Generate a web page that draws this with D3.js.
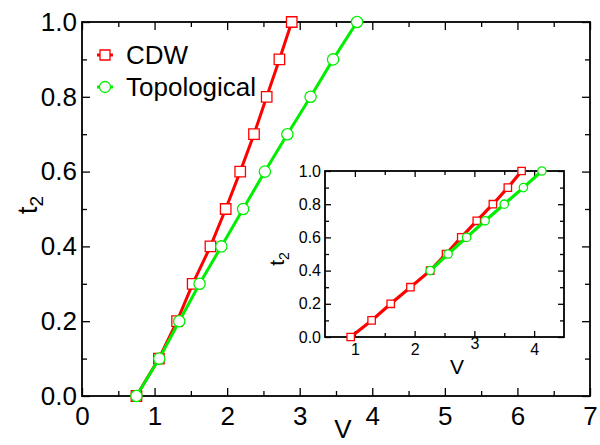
<!DOCTYPE html>
<html>
<head>
<meta charset="utf-8">
<script src="https://cdn.jsdelivr.net/npm/d3@7"></script>
<style>
  body { margin: 0; background: #fff; }
  svg { display: block; font-family: "Liberation Sans", Arial, sans-serif; }
</style>
</head>
<body>
<svg id="chart"></svg>
<script>
// data
const t2Main = [0, 0.1, 0.2, 0.3, 0.4, 0.5, 0.6, 0.7, 0.8, 0.9, 1.0];
const vCdwMain = [0.75, 1.06, 1.31, 1.525, 1.77, 1.98, 2.18, 2.37, 2.545, 2.72, 2.89];
const vTopoMain = [0.75, 1.065, 1.34, 1.62, 1.92, 2.22, 2.52, 2.83, 3.15, 3.46, 3.79];

const t2InsetCdw = [0, 0.1, 0.2, 0.3, 0.4, 0.5, 0.6, 0.7, 0.8, 0.9, 1.0];
const vCdwInset = [0.93, 1.28, 1.60, 1.93, 2.26, 2.525, 2.78, 3.04, 3.31, 3.56, 3.79];
const t2InsetTopo = [0.4, 0.5, 0.6, 0.7, 0.8, 0.9, 1.0];
const vTopoInset = [2.26, 2.56, 2.87, 3.18, 3.50, 3.82, 4.13];

const seriesNames = ["CDW", "Topological"];
const red = "#ff0000";
const green = "#00ee00";

const width = 600, height = 445;
const svg = d3.select("#chart").attr("width", width).attr("height", height);

// draws a boxed frame with inward ticks on every side
function frame(g, x, y, o) {
  const [x0, x1] = x.range();
  const [y0, y1] = y.range();
  const fmtY = d3.format(".1f");
  const sides = [
    { ax: d3.axisBottom(x), tr: `translate(0,${y0})`, lab: true, fmt: d3.format("d") },
    { ax: d3.axisTop(x), tr: `translate(0,${y1})`, lab: false },
    { ax: d3.axisLeft(y), tr: `translate(${x0},0)`, lab: true, fmt: fmtY },
    { ax: d3.axisRight(y), tr: `translate(${x1},0)`, lab: false }
  ];
  sides.forEach((s, i) => {
    const isX = i < 2;
    const major = isX ? o.xMajor : o.yMajor;
    const minor = isX ? o.xMinor : o.yMinor;
    g.append("g").attr("transform", s.tr)
      .call(s.ax.tickValues(minor).tickSize(-o.minorLen).tickFormat(""))
      .call(a => a.select(".domain").remove())
      .call(a => a.selectAll("line").attr("stroke-width", 1.3));
    const m = g.append("g").attr("transform", s.tr)
      .call(s.ax.tickValues(major).tickSize(-o.majorLen)
        .tickPadding(isX ? o.xPad : o.yPad)
        .tickFormat(s.lab ? s.fmt : ""));
    m.select(".domain").remove();
    m.selectAll("line").attr("stroke-width", 1.3);
    m.selectAll("text").attr("font-size", o.fs).attr("font-family", "Liberation Sans, Arial, sans-serif").attr("fill", "#000");
    if (s.lab && o.tweak) o.tweak(m, isX);
  });
  g.append("rect").attr("x", x0).attr("y", y1)
    .attr("width", x1 - x0).attr("height", y0 - y1)
    .attr("fill", "none").attr("stroke", "#000").attr("stroke-width", 1.8);
}

function series(g, x, y, vs, ts, color, shape, size, lw) {
  const pts = vs.map((v, i) => [v, ts[i]]);
  g.append("path").datum(pts)
    .attr("fill", "none").attr("stroke", color).attr("stroke-width", lw)
    .attr("d", d3.line().x(d => x(d[0])).y(d => y(d[1])));
  const sym = d3.symbol().type(shape === "square" ? d3.symbolSquare : d3.symbolCircle).size(size);
  g.selectAll(null).data(pts).enter().append("path")
    .attr("transform", d => `translate(${x(d[0])},${y(d[1])})`)
    .attr("d", sym)
    .attr("fill", "#fff").attr("stroke", color).attr("stroke-width", 1.3);
}

// main plot
const xMain = d3.scaleLinear().domain([0, 7]).range([82, 590]);
const yMain = d3.scaleLinear().domain([0, 1]).range([396, 22]);
const gMain = svg.append("g");

frame(gMain, xMain, yMain, {
  xMajor: d3.range(0, 8, 1), xMinor: d3.range(0.5, 7, 1),
  yMajor: d3.range(0, 1.01, 0.2), yMinor: d3.range(0.1, 1, 0.2),
  majorLen: 8, minorLen: 5, xPad: 11, yPad: 5, fs: 26
});

series(gMain, xMain, yMain, vCdwMain, t2Main, red, "square", 110, 3);
series(gMain, xMain, yMain, vTopoMain, t2Main, green, "circle", 100, 3);

// legend
const legend = gMain.append("g");
[[red, "square", 55, 100], [green, "circle", 87, 95]].forEach((l, i) => {
  legend.append("line").attr("x1", 97).attr("x2", 113).attr("y1", l[2]).attr("y2", l[2])
    .attr("stroke", l[0]).attr("stroke-width", 3);
  legend.append("path").attr("transform", `translate(105,${l[2]})`)
    .attr("d", d3.symbol().type(l[1] === "square" ? d3.symbolSquare : d3.symbolCircle).size(l[3]))
    .attr("fill", "#fff").attr("stroke", l[0]).attr("stroke-width", 1.3);
  legend.append("text").attr("x", 126).attr("y", l[2] + 9)
    .attr("font-size", 26).text(seriesNames[i]);
});

// axis titles
gMain.append("text").attr("x", 343).attr("y", 438).attr("text-anchor", "middle")
  .attr("font-size", 26).text("V");
const tMain = gMain.append("text").attr("transform", "translate(37,205) rotate(-90)")
  .attr("text-anchor", "middle").attr("font-size", 28);
tMain.append("tspan").text("t");
tMain.append("tspan").attr("font-size", 19).attr("dy", 6).text("2");

// inset
const xIn = d3.scaleLinear().domain([0.5, 4.5]).range([325, 564]);
const yIn = d3.scaleLinear().domain([0, 1]).range([337, 171]);
const gIn = svg.append("g");
gIn.append("rect").attr("x", 325).attr("y", 171).attr("width", 239).attr("height", 166).attr("fill", "#fff");

frame(gIn, xIn, yIn, {
  xMajor: [1, 2, 3, 4], xMinor: [1.5, 2.5, 3.5],
  yMajor: d3.range(0, 1.01, 0.2), yMinor: d3.range(0.1, 1, 0.2),
  majorLen: 6, minorLen: 4, xPad: 7, yPad: 4, fs: 16,
  tweak: (m, isX) => {
    if (isX) m.selectAll(".tick").filter(d => d === 3).select("text").attr("y", 1);
  }
});

series(gIn, xIn, yIn, vCdwInset, t2InsetCdw, red, "square", 55, 3.2);
series(gIn, xIn, yIn, vTopoInset, t2InsetTopo, green, "circle", 55, 3.2);

gIn.append("text").attr("x", 457).attr("y", 374).attr("text-anchor", "middle")
  .attr("font-size", 21).text("V");
const tIn = gIn.append("text").attr("transform", "translate(284,259) rotate(-90)")
  .attr("text-anchor", "middle").attr("font-size", 21);
tIn.append("tspan").text("t");
tIn.append("tspan").attr("font-size", 14).attr("dy", 5).text("2");
</script>
</body>
</html>
